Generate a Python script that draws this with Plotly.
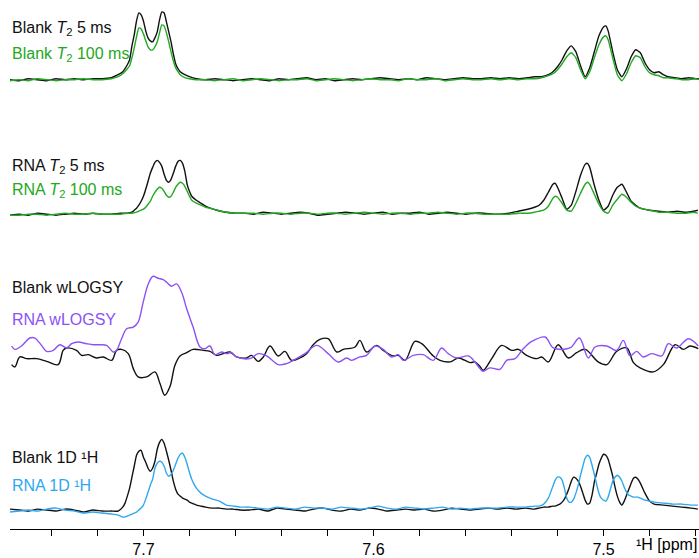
import plotly.graph_objects as go

# ---------------- data (chemical shift in ppm, intensity in arbitrary units) ----------------
# Panel 1: Blank T2
P1_PPM = [7.758, 7.754, 7.750, 7.746, 7.742, 7.738, 7.734, 7.730, 7.726, 7.722, 7.718, 7.714,
          7.711, 7.709, 7.707, 7.706, 7.705, 7.704, 7.703, 7.702, 7.701, 7.700, 7.699, 7.698,
          7.697, 7.696, 7.695, 7.694, 7.693, 7.692, 7.691, 7.690, 7.689, 7.688, 7.687, 7.686,
          7.685, 7.684, 7.682, 7.680, 7.677, 7.673, 7.669, 7.665, 7.661,
          7.657, 7.653, 7.649, 7.645, 7.641, 7.637, 7.633, 7.629, 7.625, 7.621, 7.617, 7.613,
          7.609, 7.605, 7.601, 7.597, 7.593, 7.589, 7.585, 7.581, 7.577, 7.573, 7.569, 7.565,
          7.561, 7.557, 7.553, 7.549,
          7.545, 7.541, 7.537, 7.533, 7.530, 7.527, 7.524, 7.522, 7.520, 7.518, 7.516, 7.514,
          7.512, 7.510, 7.508, 7.506, 7.504, 7.502, 7.500, 7.499, 7.498, 7.496, 7.494, 7.492,
          7.490, 7.488, 7.486, 7.484, 7.482, 7.480, 7.478, 7.476, 7.474, 7.472, 7.469, 7.466,
          7.463, 7.460, 7.458]
BLANK_T2_5 = [0, -1, 1, 0, -1, 1, 0, 1, 0, 1, 1, 2,
              5, 8, 15, 20, 34, 45, 59, 67, 65, 59, 49, 42,
              39, 38, 42, 48, 60, 68, 67, 58, 48, 38, 26, 16,
              11, 8, 5, 3, 1, 0, 1, 0, -1,
              0, 1, 0, -1, 1, 0, 1, 2, 0, 1, -1, 0,
              1, 0, 1, 2, 1, 0, 1, 0, 2, 1, 0, 1,
              2, 1, 1, 2,
              1, 2, 1, 2, 3, 3, 5, 8, 13, 20, 29, 34,
              28, 14, 3, 12, 28, 44, 53, 54, 49, 28, 10, 3,
              11, 23, 30, 27, 17, 10, 7, 8, 5, 3, 2, 1,
              2, 1, 1]
BLANK_T2_100 = [-1, 0, -1, 1, 0, -1, 0, 0, 1, 0, 0, 1,
                3, 6, 11, 14, 22, 32, 43, 52, 51, 46, 39, 33,
                30, 30, 33, 38, 47, 55, 54, 47, 38, 28, 19, 12,
                8, 5, 2, 1, 0, 0, -1, 0, 1,
                -1, 0, 1, 0, -1, 0, 0, 1, -1, 0, 1, 0,
                -1, 0, 1, 0, 0, -1, 1, 0, 0, 1, -1, 0,
                1, 0, 0, 1,
                0, 1, 0, 1, 1, 2, 4, 6, 10, 16, 23, 27,
                22, 10, 1, 8, 22, 35, 43, 44, 40, 22, 5, -1,
                6, 17, 24, 22, 13, 7, 5, 4, 2, 2, 1, 0,
                0, 1, 0]

# Panel 2: RNA T2
P2_PPM = [7.758, 7.754, 7.750, 7.746, 7.742, 7.738, 7.734, 7.730, 7.726, 7.722, 7.718, 7.714,
          7.710, 7.707,
          7.705, 7.704, 7.703, 7.702, 7.701, 7.700, 7.699, 7.698, 7.697, 7.696, 7.695, 7.694,
          7.693, 7.692, 7.691, 7.690, 7.689, 7.688, 7.687, 7.686, 7.685, 7.684, 7.683, 7.682,
          7.681, 7.680, 7.679,
          7.677, 7.675, 7.673, 7.671, 7.668, 7.664, 7.660,
          7.656, 7.652, 7.648, 7.644, 7.640, 7.636, 7.632, 7.628, 7.624, 7.620, 7.616, 7.612,
          7.608, 7.604, 7.600, 7.596, 7.592, 7.588, 7.584, 7.580, 7.576, 7.572, 7.568, 7.564,
          7.560, 7.556, 7.552, 7.548,
          7.545, 7.541, 7.537, 7.533, 7.530, 7.528, 7.526, 7.524, 7.522, 7.521, 7.520, 7.518,
          7.516, 7.514, 7.512, 7.510, 7.508, 7.507, 7.506, 7.504, 7.502, 7.500, 7.498, 7.496,
          7.494, 7.492, 7.490, 7.488, 7.486, 7.484, 7.480, 7.476, 7.472, 7.468, 7.464, 7.461,
          7.459]
RNA_T2_5 = [-2, -1, -2, 0, -1, -2, -1, 0, -1, 0, -1, -1,
            0, 0,
            1, 3, 5, 8, 12, 17, 24, 32, 40, 46, 51, 53,
            51, 47, 39, 33, 31, 34, 40, 47, 52, 53, 50, 42,
            29, 22, 17,
            13, 10, 7, 5, 3, 1, 0,
            0, -1, 1, 0, -1, 0, 1, 0, -2, -1, 0, 1,
            0, -1, 0, 1, -1, 0, 0, 1, -1, 0, 1, 0,
            -1, 0, 0, -1,
            -1, 0, 2, 4, 6, 8, 13, 21, 29, 30, 26, 15,
            4, 8, 22, 38, 49, 50, 46, 28, 13, 3, 7, 18,
            26, 29, 21, 12, 8, 5, 3, 2, 1, 2, 1, 2,
            3]
RNA_T2_100 = [-2, -2, -1, -1, -2, -1, 0, -1, -1, 0, -1, -1,
              -1, 0,
              0, 0.5, 1, 2, 3, 4, 6, 9, 12, 17, 21, 24,
              26, 25, 22, 18, 16, 17, 21, 26, 29, 31, 30, 27,
              22, 17, 13,
              10, 8, 6, 5, 3, 1, 0,
              0, 0, -1, 0, 0, -1, 0, 0, -1, 0, 0, -1,
              0, 1, 0, -1, 0, 0, -1, 0, 0, 1, 0, -1,
              0, 0, -1, -1,
              -1, -1, 0, 0, 1, 2, 3, 7, 15, 17, 16, 10,
              3, 2, 10, 20, 29, 31, 29, 19, 9, 2, 0, 8,
              14, 19, 16, 11, 7, 5, 3, 1, 1, 0, 0, 1,
              0]

# Panel 3: wLOGSY
BLANK_WLOGSY_PPM = [7.7573, 7.7559, 7.7537, 7.7508, 7.7464, 7.7421, 7.7371, 7.7349, 7.7334, 7.7291,
                    7.7269, 7.7240, 7.7204, 7.7175, 7.7138, 7.7117, 7.7095, 7.7066, 7.7044, 7.7023,
                    7.6986, 7.6950, 7.6928, 7.6907, 7.6885, 7.6863, 7.6841, 7.6812, 7.6784, 7.6740,
                    7.6711, 7.6682, 7.6653, 7.6624, 7.6595, 7.6551, 7.6530, 7.6501, 7.6479, 7.6450,
                    7.6414, 7.6385, 7.6356, 7.6320, 7.6291, 7.6262, 7.6233, 7.6197, 7.6160, 7.6131,
                    7.6080, 7.6059, 7.6030, 7.5986, 7.5958, 7.5914, 7.5892, 7.5863, 7.5820, 7.5790,
                    7.5740, 7.5711, 7.5667, 7.5631, 7.5580, 7.5559, 7.5537, 7.5523, 7.5486, 7.5443,
                    7.5399, 7.5370, 7.5334, 7.5290, 7.5269, 7.5240, 7.5197, 7.5153, 7.5117, 7.5080,
                    7.5023, 7.4986, 7.4943, 7.4899, 7.4870, 7.4841, 7.4784, 7.4740, 7.4689, 7.4653,
                    7.4624, 7.4588]
BLANK_WLOGSY = [-11, -13.3, -3.3, -5, -5, -7.7, -11, 3.3, 5.7, 3.3,
                -1.7, -1, -4.3, -3.3, -6.7, 3.3, 4.3, 0, -15, -23.3,
                -23.3, -18.3, -30, -41.7, -33.3, -11.7, -2.3, 1, 4.3, 3.3,
                2.3, -1.7, 0, 1.7, -3.3, -4.3, -1.7, -7.7, -3.3, 7.7,
                -2.3, 2.3, -6.7, -4.3, 0, 9, 14.3, 15, 1.7, 4.3,
                6.7, 13.3, 1.7, 8.3, 3.3, -2.3, -1.7, -6.7, 12.3, 10,
                -2.3, -6.7, -8.3, -4.3, -9, -8.3, -13, -16.7, -5, 8.3,
                3.3, 4.3, -1.7, -5, -3.3, -8.3, 9, -4.3, 1, 4.3,
                -8.3, -11, 2.3, 5.7, -9, -14.3, -18.3, -11, 9, 4.3,
                7.7, 5]
RNA_WLOGSY_PPM = [7.7573, 7.7559, 7.7530, 7.7494, 7.7472, 7.7443, 7.7421, 7.7392, 7.7363, 7.7334,
                  7.7312, 7.7284, 7.7247, 7.7218, 7.7189, 7.7160, 7.7131, 7.7117, 7.7095, 7.7073,
                  7.7044, 7.7023, 7.7001, 7.6979, 7.6958, 7.6936, 7.6914, 7.6899, 7.6878, 7.6856,
                  7.6834, 7.6812, 7.6784, 7.6754, 7.6733, 7.6711, 7.6689, 7.6660, 7.6638, 7.6617,
                  7.6595, 7.6537, 7.6501, 7.6464, 7.6414, 7.6378, 7.6341, 7.6298, 7.6247, 7.6197,
                  7.6153, 7.6117, 7.6095, 7.6059, 7.6030, 7.5994, 7.5958, 7.5921, 7.5892, 7.5871,
                  7.5827, 7.5784, 7.5740, 7.5704, 7.5675, 7.5638, 7.5588, 7.5559, 7.5537, 7.5523,
                  7.5494, 7.5450, 7.5421, 7.5385, 7.5349, 7.5312, 7.5254, 7.5218, 7.5146, 7.5105,
                  7.5066, 7.5037, 7.4986, 7.4943, 7.4914, 7.4885, 7.4856, 7.4827, 7.4791, 7.4747,
                  7.4718, 7.4682, 7.4631, 7.4588]
RNA_WLOGSY = [7.7, 4.3, 7.7, 15.7, 15.7, 8.3, 2.3, 3.3, 9, 5.7,
              10, 11.7, 10, 9, 9, 8.3, 1.7, 3.3, 15, 25,
              26.7, 31.7, 51.7, 70, 77.7, 75.7, 74.3, 71.7, 67.7, 70,
              61.7, 45, 26.7, 6.7, 5, 7.7, -1, 1.7, 0, 1,
              -3.3, -5, 0, -2.3, -11, -10, -5.7, 0, 8.3, 0,
              -8.3, -4.3, -6.7, -3.3, -1.7, 7.7, 4.3, -3.3, -1, -6.7,
              -1.7, -1, -6.7, 5.7, 0, -4.3, -2.3, -8.3, -15, -17.7,
              -14.3, -15.7, -6.7, -5, 5, 12.3, 16.7, 5.7, 5.7, 15.7,
              -4.3, 6.7, 7.7, 3.3, 13.3, -2.3, 2.3, -3.3, 0, -2.3,
              10, 5.7, 15, 7.7]

# Panel 4: 1D 1H
P4_PPM = [7.758, 7.754, 7.750, 7.746, 7.742, 7.738, 7.734, 7.730, 7.726, 7.722, 7.718, 7.714,
          7.711, 7.709,
          7.708, 7.707, 7.706, 7.705, 7.704, 7.703, 7.702, 7.701, 7.700, 7.699, 7.698, 7.697,
          7.696, 7.695, 7.694, 7.693, 7.692, 7.691, 7.690, 7.689, 7.688, 7.687, 7.686, 7.685,
          7.684, 7.683, 7.682, 7.681, 7.680, 7.679, 7.678, 7.677,
          7.675, 7.673, 7.670, 7.667, 7.664, 7.661, 7.658,
          7.654, 7.650, 7.646, 7.642, 7.638, 7.634, 7.630, 7.626, 7.622, 7.618, 7.614, 7.610,
          7.606, 7.602, 7.598, 7.594, 7.590, 7.586, 7.582, 7.578, 7.574, 7.570, 7.566, 7.562,
          7.558, 7.554, 7.550,
          7.546, 7.542, 7.538, 7.534, 7.530, 7.528, 7.526, 7.524,
          7.522, 7.521, 7.520, 7.519, 7.518, 7.517, 7.516, 7.515, 7.514, 7.513,
          7.512, 7.511, 7.510, 7.509, 7.508, 7.507, 7.506, 7.505, 7.504, 7.503,
          7.502, 7.501, 7.500, 7.499, 7.498, 7.497, 7.496, 7.495, 7.494, 7.493,
          7.492, 7.491, 7.490, 7.489, 7.488, 7.487, 7.486, 7.485, 7.484,
          7.482, 7.480, 7.478, 7.474, 7.470, 7.466, 7.462, 7.459]
BLANK_1D = [0, -1, -2, 0, -1, -2, 0, -1, -3, -1, -2, -2,
            -2, 2,
            6, 13, 21, 32, 43, 54, 58, 59, 52, 47, 41, 38,
            41, 48, 60, 67, 70, 66, 58, 49, 39, 28, 20, 15,
            13, 11, 10, 9, 7, 6, 5, 4,
            3, 2, 1, 1, 0, 0, -1,
            -1, 0, -2, 1, 0, -1, -2, 0, 1, -1, -2, 0,
            -1, 1, 0, -2, -1, 0, -1, 0, -2, -1, 1, 0,
            -1, 0, 1,
            0, 1, 0, 1, 0, 1, 2, 2,
            3, 3, 4, 5, 7, 10, 15, 21, 28, 32,
            31, 28, 23, 16, 9, 5, 6, 14, 27, 36,
            45, 51, 55, 54, 50, 42, 33, 22, 13, 7,
            4, 8, 14, 20, 26, 31, 32, 30, 26,
            16, 8, 5, 4, 3, 2, 1, 0]
RNA_1D = [-3, -2, -1, -2, 0, 1, -1, -2, -4, -3, -4, -5,
          -6, -8,
          -8, -7, -6, -5, -4, -3, -1, 1, 4, 10, 17, 24,
          30, 41, 46, 48, 47, 43, 36, 33, 35, 39, 45, 51,
          55, 56, 52, 45, 37, 30, 25, 21,
          16, 13, 10, 8, 4, 3, 2,
          2, 1, 0, 2, 1, 0, 2, 1, 1, 0, 2, 1,
          0, 1, 3, 1, 0, 2, 1, 0, 1, 2, 0, 1,
          0, 1, 1,
          1, 2, 2, 2, 3, 3, 5, 11,
          23, 29, 32, 32, 29, 21, 11, 7, 7, 10,
          16, 24, 34, 43, 51, 54, 52, 44, 35, 25,
          16, 11, 9, 8, 12, 20, 28, 32, 34, 32,
          28, 22, 17, 14, 13, 12, 12, 12, 11,
          9, 8, 7, 6, 5, 5, 4, 4]

LABELS = ["Blank <i>T</i><sub>2</sub> 5 ms", "Blank <i>T</i><sub>2</sub> 100 ms",
          "RNA <i>T</i><sub>2</sub> 5 ms", "RNA <i>T</i><sub>2</sub> 100 ms",
          "Blank wLOGSY", "RNA wLOGSY",
          "Blank 1D ¹H", "RNA 1D ¹H"]
AXIS_TITLE = "¹H [ppm]"

# ---------------- styling ----------------
BLACK = "#111111"
GREEN = "#22a822"
PURPLE = "#8c52f5"
BLUE = "#2ea8f0"
FONT = "Liberation Sans, Arial, sans-serif"

fig = go.Figure()

def add(x, y, color, axis, smooth):
    fig.add_trace(go.Scatter(x=x, y=y, mode="lines", yaxis=axis,
                             line=dict(color=color, width=1.4, shape="spline", smoothing=smooth),
                             hoverinfo="skip"))

add(P1_PPM, BLANK_T2_5, BLACK, "y4", 0.5)
add(P1_PPM, BLANK_T2_100, GREEN, "y4", 0.5)
add(P2_PPM, RNA_T2_5, BLACK, "y3", 0.5)
add(P2_PPM, RNA_T2_100, GREEN, "y3", 0.5)
add(BLANK_WLOGSY_PPM, BLANK_WLOGSY, BLACK, "y2", 1.0)
add(RNA_WLOGSY_PPM, RNA_WLOGSY, PURPLE, "y2", 1.0)
add(P4_PPM, BLANK_1D, BLACK, "y", 0.5)
add(P4_PPM, RNA_1D, BLUE, "y", 0.5)

label_specs = [  # (text, colour, axis, value on that axis)
    (LABELS[0], BLACK, "y4", 51), (LABELS[1], GREEN, "y4", 25),
    (LABELS[2], BLACK, "y3", 47), (LABELS[3], GREEN, "y3", 23),
    (LABELS[4], BLACK, "y2", 66), (LABELS[5], PURPLE, "y2", 34),
    (LABELS[6], BLACK, "y", 52), (LABELS[7], BLUE, "y", 24),
]
for text, col, ax, yv in label_specs:
    fig.add_annotation(text=text, xref="paper", x=0.0, xanchor="left",
                       yref=ax, y=yv, yanchor="middle", showarrow=False,
                       font=dict(family=FONT, size=16, color=col))

fig.add_annotation(text=AXIS_TITLE, xref="paper", x=1.0, xanchor="right",
                   yref="paper", y=-0.03, yanchor="middle", showarrow=False,
                   font=dict(family=FONT, size=16, color="black"))

hidden = dict(visible=False, showgrid=False, zeroline=False, fixedrange=True)
fig.update_layout(
    width=699, height=558,
    margin=dict(l=10, r=0, t=0, b=27),
    paper_bgcolor="white", plot_bgcolor="white",
    showlegend=False,
    font=dict(family=FONT, size=16, color="black"),
    xaxis=dict(range=[7.758, 7.4585], showgrid=False, zeroline=False,
               showline=True, linecolor="black", linewidth=1,
               ticks="outside", ticklen=6, tickwidth=1, tickcolor="black",
               tick0=7.5, dtick=0.1, tickformat=".1f",
               tickfont=dict(family=FONT, size=16, color="black"),
               minor=dict(tick0=7.5, dtick=0.02, ticks="outside", ticklen=6,
                          tickwidth=1, tickcolor="black", showgrid=False)),
    yaxis=dict(range=[-20, 511], **hidden),
    yaxis2=dict(range=[-176, 355], overlaying="y", **hidden),
    yaxis3=dict(range=[-317, 214], overlaying="y", **hidden),
    yaxis4=dict(range=[-451, 80], overlaying="y", **hidden),
)

fig.write_html("out.html")
